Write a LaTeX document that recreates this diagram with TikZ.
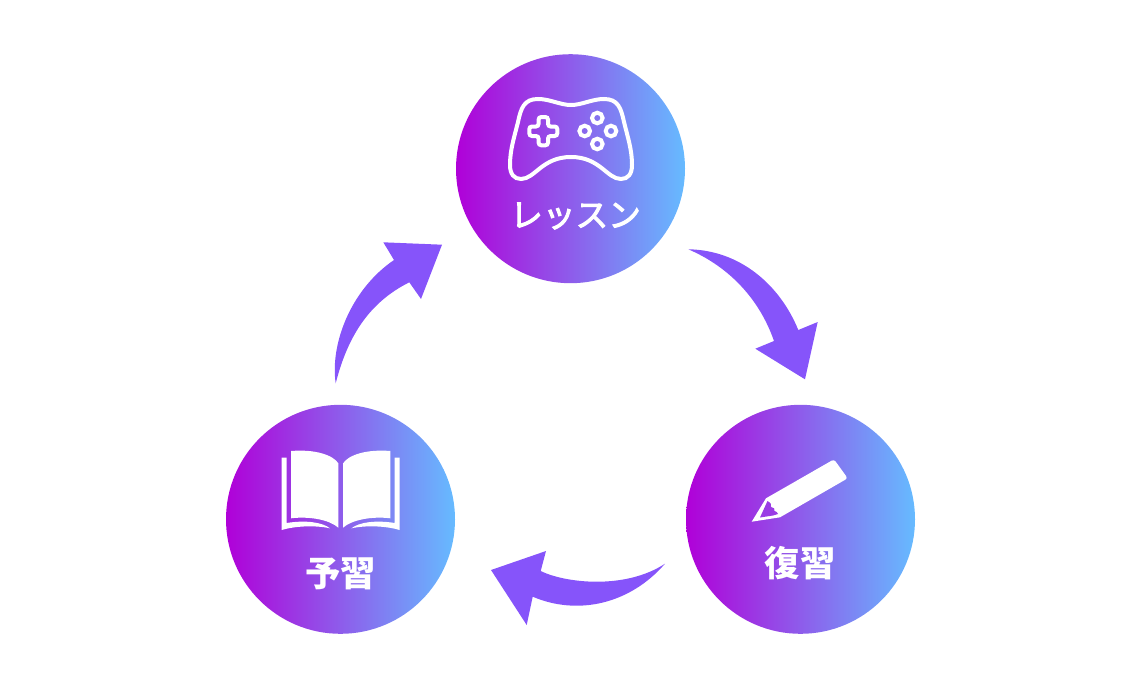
\documentclass[tikz,border=0pt]{standalone}
\usepackage{fontspec}
\newfontfamily\cjk{Noto Sans CJK JP}
\newfontfamily\cjkmid[FakeBold=3]{Noto Sans CJK JP}
\definecolor{arrowpurple}{RGB}{134,84,250}
\definecolor{gradleft}{RGB}{176,0,216}
\definecolor{gradright}{RGB}{102,187,255}
\definecolor{gradmid}{RGB}{142,92,235}
\definecolor{pencillead}{RGB}{154,60,229}
\tikzset{
  stagedisc/.style={circle,minimum size=171.75pt,inner sep=0pt,left color=gradleft,right color=gradright,middle color=gradmid},
  stagelabel/.style={inner sep=0pt,text=white,font=\cjk\bfseries\fontsize{26.5}{30}\selectfont},
  iconline/.style={draw=white,line width=3pt},
  sweep/.style={fill=arrowpurple}
}

\begin{document}
\begin{tikzpicture}[x=0.75pt,y=0.75pt,yscale=-1,xscale=1]
\useasboundingbox (0,0) rectangle (1141,685);

%Shape: Circle
\node [stagedisc] (lesson) at (570.5,168.7) {};
\node [stagedisc] (prep) at (340.5,519.3) {};
\node [stagedisc] (review) at (800.5,519.3) {};

%Shape: Curved Arrow prep to lesson
\fill [sweep] (335.7,383.3) .. controls (330,345) and (350,290) .. (394,260) -- (383.3,242.3) -- (442,244.7) -- (421,299) -- (409.3,282.3) .. controls (370,302) and (348,335) .. (335.7,383.3) -- cycle ;
%Shape: Curved Arrow lesson to review
\fill [sweep] (688.3,249.3) .. controls (740,250) and (780,285) .. (798.3,330) -- (817.7,322) -- (805,379.3) -- (755.3,348.7) -- (774,341) .. controls (758,295) and (725,265) .. (688.3,249.3) -- cycle ;
%Shape: Curved Arrow review to prep
\fill [sweep] (665,563.7) .. controls (630,604) and (578,616) .. (532.7,596.7) -- (526.7,625) -- (491,570) -- (546,551) -- (540.7,571) .. controls (565,583) and (625,590) .. (665,563.7) -- cycle ;

%Shape: Game Pad
\draw [iconline] (571,105) .. controls (582,105) and (592,99) .. (604,99) .. controls (618,99) and (621,108) .. (624,122) .. controls (628,138) and (632,150) .. (632,165) .. controls (632,174) and (628,179) .. (621,179) .. controls (607,179) and (600,157) .. (571,157) .. controls (542,157) and (535,179) .. (521,179) .. controls (514,179) and (510,174) .. (510,165) .. controls (510,150) and (514,138) .. (518,122) .. controls (521,108) and (524,99) .. (538,99) .. controls (550,99) and (560,105) .. (571,105) -- cycle ;
\draw [iconline,rounded corners=2pt] (538.6,117) -- (548,117) -- (548,126.5) -- (557.3,126.5) -- (557.3,136) -- (548,136) -- (548,145.3) -- (538.6,145.3) -- (538.6,136) -- (529.3,136) -- (529.3,126.5) -- (538.6,126.5) -- cycle ;
\foreach \bx/\by in {597.3/118,584.7/131,611/131,597.3/144}
  \draw [iconline] (\bx,\by) circle (5.3) ;

%Shape: Open Book
\fill [white] (291,451) .. controls (315,449) and (333,455) .. (338.3,463.3) -- (338.3,527.7) .. controls (330,520) and (310,516) .. (291,518.3) -- cycle ;
\fill [white] (390.4,451) .. controls (366.4,449) and (348.4,455) .. (343.1,463.3) -- (343.1,527.7) .. controls (351.4,520) and (371.4,516) .. (390.4,518.3) -- cycle ;
\fill [white] (281.7,457.7) -- (286.7,457.7) -- (286.7,523) .. controls (305,520) and (322,522) .. (330,528.3) .. controls (315,525) and (295,526) .. (281.7,530) -- cycle ;
\fill [white] (399.7,457.7) -- (394.7,457.7) -- (394.7,523) .. controls (376.4,520) and (359.4,522) .. (351.4,528.3) .. controls (366.4,525) and (386.4,526) .. (399.7,530) -- cycle ;

%Shape: Pencil
\fill [white] (751.7,521.7) -- (766,498.3) [rounded corners=2pt] -- (834,459.3) -- (847.7,478.3) [sharp corners] -- (780,517.3) -- cycle ;
\fill [pencillead] (767.5,501) .. controls (771,503) and (772,505) .. (771,507) .. controls (774,507) and (775,509) .. (774.5,511) .. controls (776,511) and (777.5,512.5) .. (778,514) -- (773,515.5) -- (760,517.5) -- cycle ;

% Text Node
\node [stagelabel,font=\cjkmid\fontsize{24.5}{28}\selectfont] (lessontext) at (575.5,216) {レッスン};
% Text Node
\node [stagelabel] (preptext) at (340.5,574) {予習};
% Text Node
\node [stagelabel] (reviewtext) at (800,563) {復習};

\end{tikzpicture}
\end{document}
